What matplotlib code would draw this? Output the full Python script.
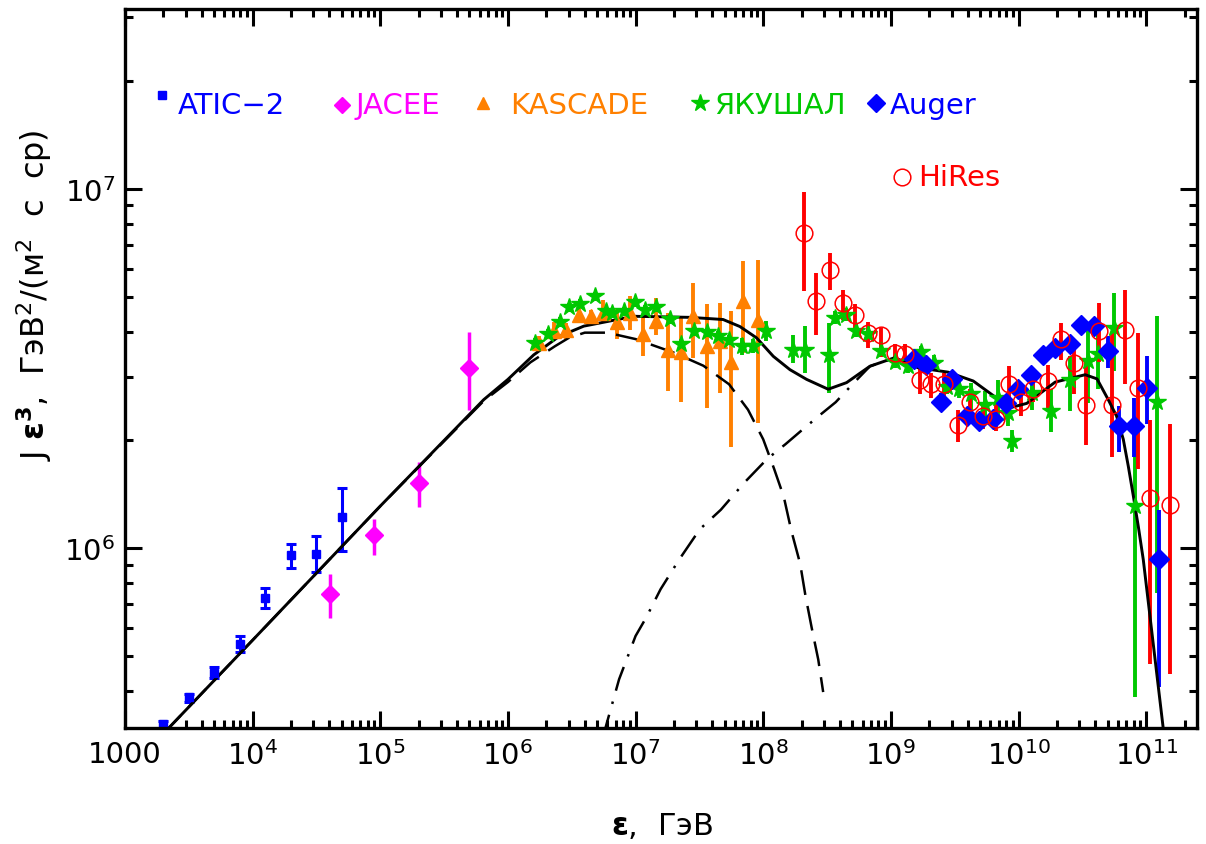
import matplotlib
matplotlib.use("Agg")
import matplotlib.pyplot as plt
import matplotlib.ticker as mticker
import numpy as np

# ATIC-2
atic_e = [2.0e3, 3.16e3, 5.0e3, 8.0e3, 1.26e4, 2.0e4, 3.16e4, 5.0e4]
atic_j = [3.24e5, 3.85e5, 4.5e5, 5.41e5, 7.27e5, 9.58e5, 9.66e5, 1.22e6]
atic_lo = [3.1e5, 3.74e5, 4.35e5, 5.16e5, 6.8e5, 8.84e5, 8.6e5, 9.85e5]
atic_hi = [3.31e5, 3.94e5, 4.67e5, 5.69e5, 7.73e5, 1.03e6, 1.08e6, 1.47e6]

# JACEE
jacee_e = [4.03e4, 8.98e4, 2.01e5, 5.0e5]
jacee_j = [7.45e5, 1.09e6, 1.52e6, 3.18e6]
jacee_lo = [6.41e5, 9.57e5, 1.30e6, 2.42e6]
jacee_hi = [8.47e5, 1.21e6, 1.74e6, 3.99e6]

# KASCADE
kas_e = [1.74e6, 2.28e6, 2.83e6, 3.6e6, 4.49e6, 5.58e6, 7.19e6, 9.04e6, 1.15e7,
         1.44e7, 1.81e7, 2.27e7, 2.84e7, 3.66e7, 4.55e7, 5.6e7, 7.0e7, 9.06e7]
kas_j = [3.72e6, 4.02e6, 4.06e6, 4.47e6, 4.44e6, 4.52e6, 4.26e6, 4.52e6, 3.95e6,
         4.29e6, 3.56e6, 3.52e6, 4.42e6, 3.65e6, 3.77e6, 3.3e6, 4.89e6, 4.31e6]
kas_lo = [3.55e6, 3.8e6, 3.81e6, 4.24e6, 4.2e6, 4.24e6, 3.83e6, 4.06e6, 3.42e6,
          3.93e6, 2.74e6, 2.56e6, 3.39e6, 2.46e6, 2.71e6, 1.91e6, 3.5e6, 2.23e6]
kas_hi = [3.9e6, 4.25e6, 4.24e6, 4.67e6, 4.6e6, 4.92e6, 4.67e6, 5.02e6, 4.42e6,
          4.97e6, 4.52e6, 4.38e6, 5.47e6, 4.77e6, 4.82e6, 4.56e6, 6.29e6, 6.35e6]

# Yakutsk (ЯКУШАЛ)
yak_e = [1.64e6, 2.06e6, 2.58e6, 3.0e6, 3.64e6, 4.8e6, 5.82e6, 6.57e6, 8.11e6, 9.9e6,
         1.19e7, 1.44e7, 1.85e7, 2.27e7, 2.88e7, 3.66e7, 4.44e7, 5.42e7, 6.78e7, 8.27e7,
         1.05e8, 1.71e8, 2.11e8, 3.27e8, 3.62e8, 4.47e8, 5.35e8, 6.62e8, 8.42e8, 1.07e9,
         1.36e9, 1.71e9, 2.17e9, 2.73e9, 3.41e9, 4.24e9, 5.46e9, 6.95e9, 8.32e9, 8.83e9,
         1.27e10, 1.8e10, 2.51e10, 3.48e10, 4.19e10, 5.56e10, 8.22e10, 1.22e11]
yak_j = [3.72e6, 3.95e6, 4.26e6, 4.68e6, 4.79e6, 5.03e6, 4.56e6, 4.52e6, 4.56e6, 4.83e6,
         4.61e6, 4.68e6, 4.35e6, 3.71e6, 4.02e6, 3.99e6, 3.89e6, 3.79e6, 3.65e6, 3.66e6,
         4.02e6, 3.57e6, 3.57e6, 3.44e6, 4.38e6, 4.47e6, 4.03e6, 3.94e6, 3.55e6, 3.30e6,
         3.22e6, 3.51e6, 3.28e6, 2.81e6, 2.78e6, 2.68e6, 2.51e6, 2.62e6, 2.38e6, 1.99e6,
         2.71e6, 2.41e6, 2.94e6, 3.31e6, 3.48e6, 4.10e6, 1.31e6, 2.56e6]
yak_lo = [3.6e6, 3.83e6, 4.13e6, 4.54e6, 4.65e6, 4.88e6, 4.42e6, 4.38e6, 4.42e6, 4.68e6,
          4.47e6, 4.54e6, 4.22e6, 3.6e6, 3.9e6, 3.87e6, 3.77e6, 3.67e6, 3.45e6, 3.5e6,
          3.77e6, 3.28e6, 3.08e6, 2.71e6, 4.2e6, 4.3e6, 3.87e6, 3.78e6, 3.4e6, 3.17e6,
          3.08e6, 3.36e6, 3.12e6, 2.68e6, 2.62e6, 2.38e6, 2.28e6, 2.33e6, 2.19e6, 1.85e6,
          2.43e6, 2.10e6, 2.41e6, 2.54e6, 2.77e6, 3.11e6, 3.86e5, 7.5e5]
yak_hi = [3.84e6, 4.07e6, 4.39e6, 4.82e6, 4.93e6, 5.18e6, 4.7e6, 4.66e6, 4.7e6, 4.98e6,
          4.75e6, 4.82e6, 4.48e6, 3.82e6, 4.14e6, 4.11e6, 4.01e6, 3.91e6, 3.85e6, 3.82e6,
          4.28e6, 3.93e6, 4.15e6, 4.24e6, 4.56e6, 4.65e6, 4.2e6, 4.1e6, 3.7e6, 3.45e6,
          3.36e6, 3.66e6, 3.44e6, 2.95e6, 2.94e6, 2.89e6, 2.74e6, 2.94e6, 2.59e6, 2.14e6,
          2.94e6, 2.77e6, 3.42e6, 4.06e6, 4.19e6, 5.13e6, 2.25e6, 4.42e6]

# Auger
aug_e = [1.53e9, 1.90e9, 2.46e9, 3.04e9, 3.92e9, 4.92e9, 6.34e9, 7.92e9, 9.85e9, 1.25e10,
         1.55e10, 1.94e10, 2.54e10, 3.06e10, 3.9e10, 5.03e10, 6.1e10, 8.0e10, 1.02e11, 1.26e11]
aug_j = [3.37e6, 3.24e6, 2.56e6, 2.96e6, 2.33e6, 2.26e6, 2.29e6, 2.54e6, 2.77e6, 3.04e6,
         3.46e6, 3.61e6, 3.69e6, 4.19e6, 4.15e6, 3.53e6, 2.19e6, 2.19e6, 2.79e6, 9.35e5]
aug_lo = [3.27e6, 3.14e6, 2.45e6, 2.86e6, 2.24e6, 2.18e6, 2.2e6, 2.45e6, 2.67e6, 2.93e6,
          3.34e6, 3.48e6, 3.55e6, 4.02e6, 3.95e6, 3.18e6, 1.85e6, 1.79e6, 2.21e6, 4.11e5]
aug_hi = [3.47e6, 3.34e6, 2.7e6, 3.06e6, 2.42e6, 2.34e6, 2.38e6, 2.63e6, 2.87e6, 3.15e6,
          3.58e6, 3.74e6, 3.83e6, 4.36e6, 4.35e6, 3.9e6, 2.48e6, 2.62e6, 3.42e6, 1.28e6]

# HiRes
hir_e = [2.07e8, 2.6e8, 3.31e8, 4.21e8, 5.26e8, 6.62e8, 8.41e8, 1.07e9, 1.28e9, 1.68e9,
         2.08e9, 2.62e9, 3.33e9, 4.17e9, 5.24e9, 6.62e9, 8.42e9, 1.05e10, 1.31e10, 1.70e10,
         2.16e10, 2.71e10, 3.39e10, 4.29e10, 5.39e10, 6.79e10, 8.6e10, 1.07e11, 1.53e11]
hir_j = [7.54e6, 4.86e6, 5.93e6, 4.80e6, 4.47e6, 3.97e6, 3.93e6, 3.50e6, 3.48e6, 2.94e6,
         2.86e6, 2.86e6, 2.20e6, 2.56e6, 2.33e6, 2.29e6, 2.86e6, 2.55e6, 2.77e6, 2.92e6,
         3.81e6, 3.27e6, 2.50e6, 4.02e6, 2.51e6, 4.06e6, 2.79e6, 1.38e6, 1.32e6]
hir_lo = [5.19e6, 3.93e6, 5.24e6, 4.33e6, 4.06e6, 3.61e6, 3.41e6, 3.3e6, 3.28e6, 2.68e6,
          2.62e6, 2.62e6, 1.97e6, 2.28e6, 2.15e6, 2.12e6, 2.54e6, 2.33e6, 2.55e6, 2.41e6,
          3.35e6, 2.68e6, 1.94e6, 3.29e6, 1.80e6, 2.86e6, 1.66e6, 4.76e5, 4.47e5]
hir_hi = [9.83e6, 5.84e6, 6.62e6, 5.24e6, 4.77e6, 4.25e6, 4.11e6, 3.7e6, 3.69e6, 3.24e6,
          3.08e6, 3.08e6, 2.43e6, 2.77e6, 2.5e6, 2.54e6, 3.21e6, 2.77e6, 3.0e6, 3.24e6,
          4.24e6, 3.65e6, 3.29e6, 4.82e6, 3.98e6, 5.24e6, 3.97e6, 2.28e6, 2.21e6]

# model curves: total, galactic (dashed), extragalactic (dash-dot)
tot_e = [2.0e3, 1e4, 1e5, 6.46e5, 1e6, 1.59e6, 2.5e6, 3.93e6, 9.73e6, 2.66e7, 4.85e7, 6.56e7,
         8.87e7, 1.2e8, 1.62e8, 2.19e8, 3.23e8, 4.5e8, 6.86e8, 1.07e9, 1.63e9, 2.81e9,
         4.42e9, 8.57e9, 1.16e10, 1.94e10, 3.33e10, 4.12e10, 5.05e10, 5.87e10, 6.62e10,
         7.25e10, 7.93e10, 8.68e10, 9.49e10, 1.36e11, 1.45e11]
tot_j = [3.05e5, 5.55e5, 1.31e6, 2.59e6, 2.95e6, 3.45e6, 3.88e6, 4.15e6, 4.42e6, 4.39e6, 4.33e6,
         4.14e6, 3.85e6, 3.42e6, 3.14e6, 2.95e6, 2.77e6, 2.89e6, 3.21e6, 3.39e6, 3.18e6,
         3.09e6, 2.92e6, 2.46e6, 2.53e6, 2.90e6, 3.04e6, 2.96e6, 2.59e6, 2.33e6, 2.01e6,
         1.69e6, 1.40e6, 1.15e6, 9.31e5, 3.16e5, 2.6e5]

gal_e = [2.0e3, 1e4, 1e5, 6.46e5, 1e6, 1.5e6, 2.34e6, 3e6, 4e6, 6e6, 1e7, 2e7, 3.4e7,
         5.4e7, 7.6e7, 1.0e8, 1.22e8, 1.45e8, 1.66e8, 1.95e8, 2.14e8, 2.4e8, 2.7e8, 2.95e8]
gal_j = [3.05e5, 5.55e5, 1.31e6, 2.57e6, 2.9e6, 3.29e6, 3.65e6, 3.85e6, 3.98e6, 3.98e6,
         3.82e6, 3.5e6, 3.22e6, 2.86e6, 2.43e6, 2.01e6, 1.66e6, 1.39e6, 1.12e6, 9.04e5,
         7.4e5, 6.0e5, 4.9e5, 3.98e5]

exg_e = [5.5e6, 7.43e6, 1e7, 1.21e7, 1.57e7, 2.2e7, 3.19e7, 4.66e7, 7.08e7, 1.07e8,
         1.5e8, 2.1e8, 2.75e8, 3.7e8, 5.1e8, 6.86e8, 1.07e9]
exg_j = [2.95e5, 4.32e5, 5.7e5, 6.41e5, 7.69e5, 9.31e5, 1.13e6, 1.28e6, 1.52e6, 1.77e6,
         1.95e6, 2.16e6, 2.34e6, 2.55e6, 2.88e6, 3.21e6, 3.39e6]

c_blue = "#0000ff"
c_mag = "#ff00ff"
c_orange = "#ff8000"
c_green = "#00c800"
c_red = "#ff0000"


def err(y, lo, hi):
    y = np.array(y)
    return [y - np.array(lo), np.array(hi) - y]


fig = plt.figure(figsize=(12.06, 8.45), dpi=100)
ax = fig.add_axes([0.1036, 0.1373, 0.8889, 0.8507])

ax.errorbar(atic_e, atic_j, yerr=err(atic_j, atic_lo, atic_hi), fmt="s", color=c_blue,
            ms=6, elinewidth=2.2, capsize=3.5, capthick=2.2)
ax.errorbar(jacee_e, jacee_j, yerr=err(jacee_j, jacee_lo, jacee_hi), fmt="D", color=c_mag,
            ms=9, elinewidth=2.5)
ax.errorbar(kas_e, kas_j, yerr=err(kas_j, kas_lo, kas_hi), fmt="^", color=c_orange,
            ms=9.5, elinewidth=2.8)
ax.errorbar(yak_e, yak_j, yerr=err(yak_j, yak_lo, yak_hi), fmt="*", color=c_green,
            ms=13, elinewidth=2.8)
ax.errorbar(aug_e, aug_j, yerr=err(aug_j, aug_lo, aug_hi), fmt="D", color=c_blue,
            ms=10, elinewidth=2.8)
ax.errorbar(hir_e, hir_j, yerr=err(hir_j, hir_lo, hir_hi), fmt="o", color=c_red,
            mfc="none", mec=c_red, mew=1.1, ms=12, elinewidth=2.8)

ax.plot(tot_e, tot_j, color="black", lw=2.1)
ax.plot(gal_e, gal_j, color="black", lw=1.8, dashes=(10, 4.5))
ax.plot(exg_e, exg_j, color="black", lw=1.8, dashes=(10, 4.5, 1, 4.5))

ax.set_xscale("log")
ax.set_yscale("log")
ax.set_xlim(1e3, 2.5e11)
ax.set_ylim(10 ** 5.5, 10 ** 7.5)

xt = [10.0 ** k for k in range(3, 12)]
ax.set_xticks(xt)
ax.set_xticklabels(["1000"] + [r"$10^{%d}$" % k for k in range(4, 12)])
ax.set_yticks([1e6, 1e7])
ax.set_yticklabels([r"$10^{6}$", r"$10^{7}$"])
ax.xaxis.set_minor_locator(mticker.LogLocator(base=10, subs=np.arange(2, 10), numticks=30))
ax.yaxis.set_minor_locator(mticker.LogLocator(base=10, subs=np.arange(2, 10), numticks=30))
ax.xaxis.set_minor_formatter(mticker.NullFormatter())
ax.yaxis.set_minor_formatter(mticker.NullFormatter())
ax.tick_params(which="both", direction="in", top=True, right=True, width=2.2, labelsize=21)
ax.tick_params(which="major", length=12)
ax.tick_params(which="minor", length=6)
ax.tick_params(axis="x", pad=9)
ax.tick_params(axis="y", pad=7)
for s in ax.spines.values():
    s.set_linewidth(2.4)

# legend drawn as text labels
leg_fs = 21
tr = ax.transAxes
ax.plot([0.0345], [0.880], "s", color=c_blue, ms=6, transform=tr, clip_on=False)
ax.text(0.0494, 0.866, "ATIC\u22122", color=c_blue, fontsize=leg_fs, transform=tr, va="center")
ax.plot([0.2024], [0.866], "D", color=c_mag, ms=8, transform=tr)
ax.text(0.2155, 0.866, "JACEE", color=c_mag, fontsize=leg_fs, transform=tr, va="center")
ax.plot([0.334], [0.870], "^", color=c_orange, ms=9, transform=tr)
ax.text(0.359, 0.866, "KASCADE", color=c_orange, fontsize=leg_fs, transform=tr, va="center")
ax.plot([0.536], [0.870], "*", color=c_green, ms=13, transform=tr)
ax.text(0.550, 0.866, "ЯКУШАЛ", color=c_green, fontsize=leg_fs, transform=tr, va="center")
ax.plot([0.7005], [0.870], "D", color=c_blue, ms=9, transform=tr)
ax.text(0.7136, 0.866, "Auger", color=c_blue, fontsize=leg_fs, transform=tr, va="center")
ax.plot([0.7245], [0.767], "o", color=c_red, mfc="none", mew=1.1, ms=12, transform=tr)
ax.text(0.7397, 0.767, "HiRes", color=c_red, fontsize=leg_fs, transform=tr, va="center")

fig.text(0.549, 0.022, r"$\mathbf{\epsilon}$,  ГэВ", fontsize=22, ha="center", va="center")
fig.text(0.028, 0.651, r"J $\mathbf{\epsilon^3}$,  ГэВ$^2$/(м$^2$  с  ср)", fontsize=23,
         rotation=90, ha="center", va="center")

fig.savefig("out.png", dpi=100)
